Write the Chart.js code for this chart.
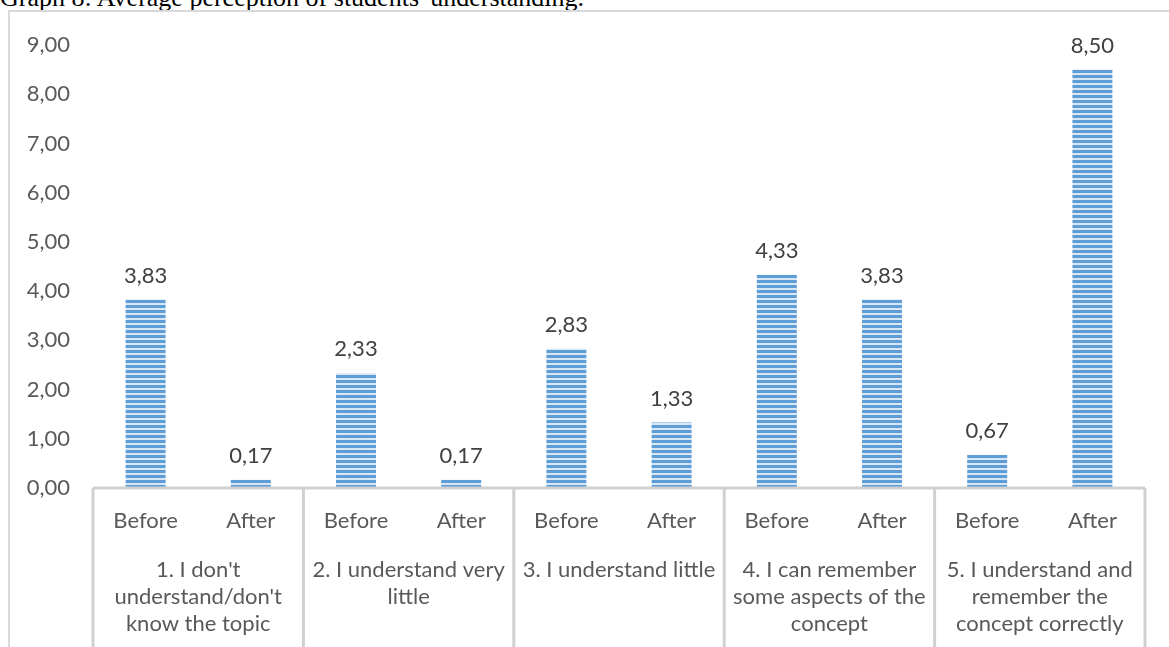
<!DOCTYPE html>
<html>
<head>
<meta charset="utf-8">
<script src="https://cdn.jsdelivr.net/npm/chart.js@4.4.1/dist/chart.umd.min.js"></script>
<style>
  html, body { margin: 0; padding: 0; background: #fff; overflow: hidden; }
  #title { position: absolute; left: 0; top: -17px; font-family: "Liberation Serif", serif; font-size: 26px; color: #000; white-space: nowrap; }
  #frame { position: absolute; left: 8px; top: 10px; width: 1200px; height: 700px; border-left: 2px solid #d9d9d9; border-top: 2px solid #d9d9d9; }
  #wrap { position: absolute; left: 0; top: 0; width: 1169px; height: 647px; }
</style>
</head>
<body>
<div id="title">Graph 8: Average perception of students' understanding.</div>
<div id="frame"></div>
<div id="wrap"><canvas id="myChart"></canvas></div>
<script>
// categories
var groups = [
  ["1. I don't", "understand/don't", "know the topic"],
  ["2. I understand very", "little"],
  ["3. I understand little"],
  ["4. I can remember", "some aspects of the", "concept"],
  ["5. I understand and", "remember the", "concept correctly"]
];
var phases = ["Before", "After"];
// values, two per group (before, after)
var scores = [3.83, 0.17, 2.33, 0.17, 2.83, 1.33, 4.33, 3.83, 0.67, 8.50];
var yTicks = [0, 1, 2, 3, 4, 5, 6, 7, 8, 9];

var labels = [];
groups.forEach(function () { labels.push(phases[0], phases[1]); });

var fmt = function (v) { return v.toFixed(2).replace('.', ','); };

// striped fill like the excel pattern
var pc = document.createElement('canvas');
pc.width = 4; pc.height = 5;
var pctx = pc.getContext('2d');
pctx.fillStyle = '#5f9dd7'; pctx.fillRect(0, 0, 4, 3);
pctx.fillStyle = '#d7e7f6'; pctx.fillRect(0, 3, 4, 2);
var stripes = pctx.createPattern(pc, 'repeat');

var font = "Lato, 'Open Sans', sans-serif";
var grey = '#595959';

var decor = {
  id: 'decor',
  afterDatasetsDraw: function (chart) {
    var ctx = chart.ctx, area = chart.chartArea;
    var meta = chart.getDatasetMeta(0);
    ctx.save();
    // value labels
    ctx.font = '22px ' + font;
    ctx.fillStyle = '#404040';
    ctx.textAlign = 'center';
    ctx.textBaseline = 'bottom';
    meta.data.forEach(function (bar, i) {
      ctx.fillText(fmt(scores[i]), bar.x, bar.y - 13);
    });
    // axis line and group separators
    ctx.strokeStyle = '#d0d0d0';
    ctx.lineWidth = 3;
    ctx.beginPath();
    ctx.moveTo(area.left, area.bottom);
    ctx.lineTo(area.right, area.bottom);
    var step = (area.right - area.left) / groups.length;
    for (var k = 0; k <= groups.length; k++) {
      var x = area.left + k * step;
      ctx.moveTo(x, area.bottom);
      ctx.lineTo(x, chart.height);
    }
    ctx.stroke();
    ctx.restore();
  }
};

new Chart("myChart", {
  type: "bar",
  data: {
    labels: labels,
    datasets: [{
      data: scores,
      backgroundColor: stripes,
      borderWidth: 0,
      barPercentage: 0.38,
      categoryPercentage: 1
    }]
  },
  options: {
    responsive: true,
    maintainAspectRatio: false,
    animation: false,
    layout: { padding: { left: 8, top: 45, right: 24, bottom: 0 } },
    plugins: {
      legend: { display: false },
      tooltip: { enabled: false }
    },
    scales: {
      y: {
        min: 0,
        max: 9,
        afterBuildTicks: function (s) { s.ticks = yTicks.map(function (v) { return { value: v }; }); },
        afterFit: function (s) { s.width = 85; },
        grid: { display: false },
        border: { display: false },
        ticks: {
          color: grey,
          font: { family: font, size: 22 },
          padding: 15,
          callback: function (v) { return fmt(v); }
        }
      },
      x: {
        afterFit: function (s) { s.height = 60; },
        grid: { display: false },
        border: { display: false },
        ticks: { color: grey, font: { family: font, size: 22 }, padding: 12, maxRotation: 0, autoSkip: false }
      },
      x2: {
        type: 'category',
        position: 'bottom',
        labels: groups,
        offset: true,
        afterFit: function (s) { s.height = 99; },
        grid: { display: false },
        border: { display: false },
        ticks: { color: grey, font: { family: font, size: 22, lineHeight: 1.23 }, padding: 0, maxRotation: 0, autoSkip: false }
      }
    }
  },
  plugins: [decor]
});
</script>
</body>
</html>
